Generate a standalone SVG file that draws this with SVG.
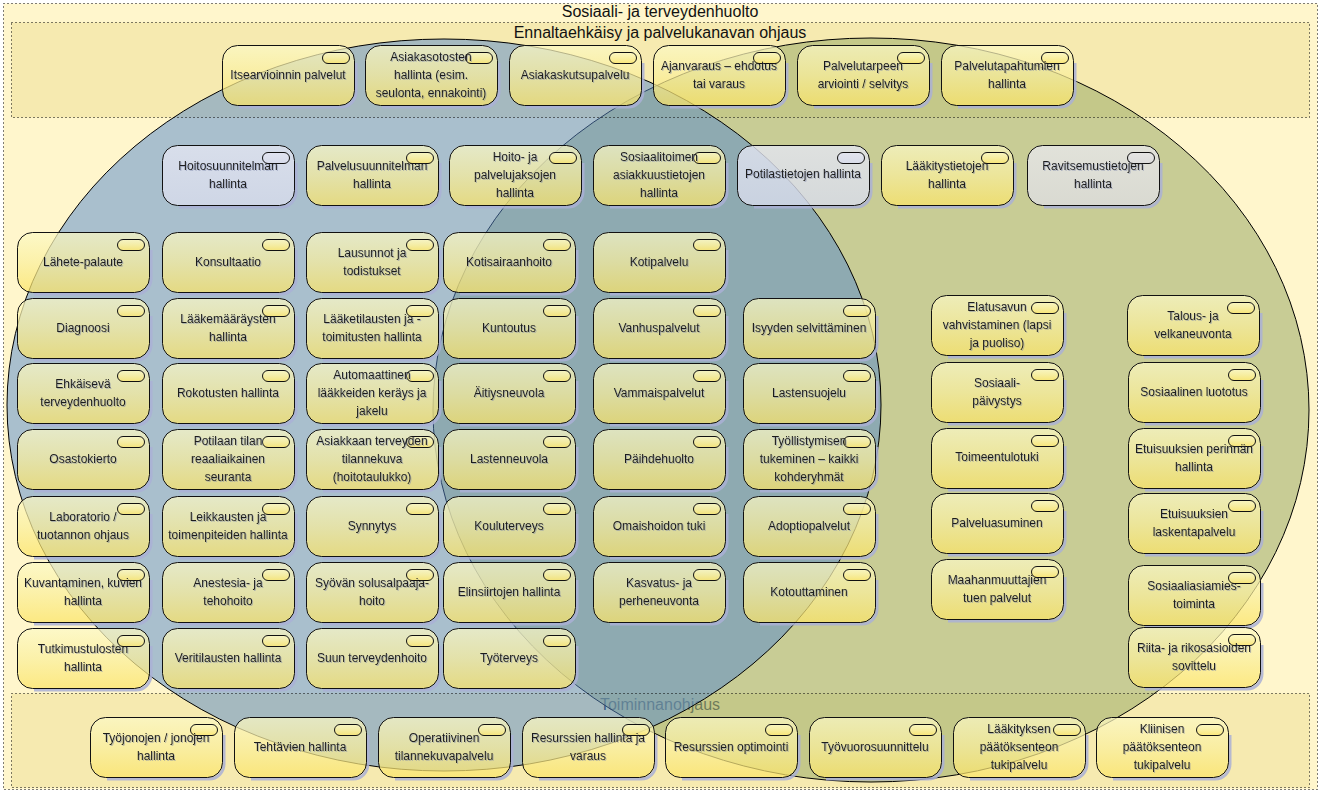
<svg xmlns="http://www.w3.org/2000/svg" width="1322" height="794" viewBox="0 0 1322 794">
<style>
.h{font-family:"Liberation Sans",Arial,sans-serif;font-size:16px;fill:#111;text-anchor:middle}
.t{font-family:"Liberation Sans",Arial,sans-serif;font-size:12px;fill:#1c1c1c;text-anchor:middle;filter:url(#ts)}
.dot{fill:none;stroke:#000;stroke-width:1;stroke-dasharray:1 3}
.sh{fill:none;stroke:#aab0d6;stroke-width:3;stroke-opacity:.85}
.bf{fill:url(#gy);fill-opacity:.72;stroke:#111;stroke-width:1}
.bfl{fill:url(#gl);fill-opacity:.8;stroke:#111;stroke-width:1}
.bfg{fill:url(#gg);fill-opacity:.85;stroke:#111;stroke-width:1}
</style>
<defs>
<linearGradient id="gy" x1="0" y1="0" x2="0" y2="1">
<stop offset="0" stop-color="#fcf9c6"/>
<stop offset="0.5" stop-color="#faef9c"/>
<stop offset="1" stop-color="#fbe466"/>
</linearGradient>
<linearGradient id="gl" x1="0" y1="0" x2="0" y2="1">
<stop offset="0" stop-color="#e4e6f2"/>
<stop offset="1" stop-color="#d8dcec"/>
</linearGradient>
<linearGradient id="gg" x1="0" y1="0" x2="0" y2="1">
<stop offset="0" stop-color="#e6e6e6"/>
<stop offset="1" stop-color="#dcdcdc"/>
</linearGradient>
<filter id="ts" x="-10%" y="-30%" width="120%" height="170%">
<feDropShadow dx="1" dy="1" stdDeviation="0.5" flood-color="#7a84a8" flood-opacity="0.5"/>
</filter>
<g id="bx">
<path class="sh" d="M134,18 L134,47 A15,15 0 0 1 119,62 L17,62"/>
<rect class="bf" x="0.5" y="0.5" width="132" height="60" rx="15"/>
<rect class="bf" x="100.5" y="7.5" width="27" height="11" rx="5.5"/>
</g>
<g id="bxl">
<path class="sh" d="M134,18 L134,47 A15,15 0 0 1 119,62 L17,62"/>
<rect class="bfl" x="0.5" y="0.5" width="132" height="60" rx="15"/>
<rect class="bfl" x="100.5" y="7.5" width="27" height="11" rx="5.5"/>
</g>
<g id="bxg">
<path class="sh" d="M134,18 L134,47 A15,15 0 0 1 119,62 L17,62"/>
<rect class="bfg" x="0.5" y="0.5" width="132" height="60" rx="15"/>
<rect class="bfg" x="100.5" y="7.5" width="27" height="11" rx="5.5"/>
</g>
</defs>

<rect x="0" y="0" width="1322" height="794" fill="#ffffff"/>
<g id="frame-sote">
<rect x="3.5" y="3.5" width="1314" height="786" fill="#fff6cc"/>
<text class="h" x="660" y="17">Sosiaali- ja terveydenhuolto</text>
</g>
<g id="group-ennalta">
<rect x="11.5" y="22.5" width="1298" height="95" fill="#f6eab0"/>
<text class="h" x="660" y="38">Ennaltaehkäisy ja palvelukanavan ohjaus</text>
</g>
<g id="group-toiminnanohjaus">
<rect x="11.5" y="693.5" width="1298" height="94" fill="#f6eab0"/>
<text class="h" x="660" y="710" style="fill:#1a2a3a">Toiminnanohjaus</text>
</g>

<g id="ellipse-sosiaali">
<ellipse cx="871" cy="410" rx="438" ry="372" fill="#a3b06f" fill-opacity="0.6" stroke="#000" stroke-width="1"/>
</g>
<g id="ellipse-terveys">
<ellipse cx="444" cy="405" rx="437" ry="366" fill="#5388ce" fill-opacity="0.5" stroke="#000" stroke-width="1"/>
</g>

<g id="borders">
<rect class="dot" x="3.5" y="3.5" width="1314" height="786"/>
<rect class="dot" x="11.5" y="22.5" width="1298" height="95"/>
<rect class="dot" x="11.5" y="693.5" width="1298" height="94"/>
</g>

<g id="n-itsearviointi" transform="translate(222,45)"><use href="#bx"/><text class="t" x="66" y="34">Itsearvioinnin palvelut</text></g>
<g id="n-asiakasotokset" transform="translate(365,45)"><use href="#bx"/><text class="t" x="66" y="16">Asiakasotosten<tspan x="66" dy="18">hallinta (esim.</tspan><tspan x="66" dy="18">seulonta, ennakointi)</tspan></text></g>
<g id="n-asiakaskutsu" transform="translate(509,45)"><use href="#bx"/><text class="t" x="66" y="34">Asiakaskutsupalvelu</text></g>
<g id="n-ajanvaraus" transform="translate(653,45)"><use href="#bx"/><text class="t" x="66" y="25">Ajanvaraus – ehdotus<tspan x="66" dy="18">tai varaus</tspan></text></g>
<g id="n-palvelutarve" transform="translate(797,45)"><use href="#bx"/><text class="t" x="66" y="25">Palvelutarpeen<tspan x="66" dy="18">arviointi / selvitys</tspan></text></g>
<g id="n-palvelutapahtumat" transform="translate(941,45)"><use href="#bx"/><text class="t" x="66" y="25">Palvelutapahtumien<tspan x="66" dy="18">hallinta</tspan></text></g>

<g id="n-hoitosuunnitelma" transform="translate(162,145)"><use href="#bxl"/><text class="t" x="66" y="25">Hoitosuunnitelman<tspan x="66" dy="18">hallinta</tspan></text></g>
<g id="n-palvelusuunnitelma" transform="translate(306,145)"><use href="#bx"/><text class="t" x="66" y="25">Palvelusuunnitelman<tspan x="66" dy="18">hallinta</tspan></text></g>
<g id="n-hoitojaksot" transform="translate(449,145)"><use href="#bx"/><text class="t" x="66" y="16">Hoito- ja<tspan x="66" dy="18">palvelujaksojen</tspan><tspan x="66" dy="18">hallinta</tspan></text></g>
<g id="n-sosiaalitoimen" transform="translate(593,145)"><use href="#bx"/><text class="t" x="66" y="16">Sosiaalitoimen<tspan x="66" dy="18">asiakkuustietojen</tspan><tspan x="66" dy="18">hallinta</tspan></text></g>
<g id="n-potilastiedot" transform="translate(737,145)"><use href="#bxl"/><text class="t" x="66" y="33">Potilastietojen hallinta</text></g>
<g id="n-laakitystiedot" transform="translate(881,145)"><use href="#bx"/><text class="t" x="66" y="25">Lääkitystietojen<tspan x="66" dy="18">hallinta</tspan></text></g>
<g id="n-ravitsemustiedot" transform="translate(1027,145)"><use href="#bxg"/><text class="t" x="66" y="25">Ravitsemustietojen<tspan x="66" dy="18">hallinta</tspan></text></g>

<g id="n-lahete" transform="translate(17,232)"><use href="#bx"/><text class="t" x="66" y="34">Lähete-palaute</text></g>
<g id="n-konsultaatio" transform="translate(162,232)"><use href="#bx"/><text class="t" x="66" y="34">Konsultaatio</text></g>
<g id="n-lausunnot" transform="translate(306,232)"><use href="#bx"/><text class="t" x="66" y="25">Lausunnot ja<tspan x="66" dy="18">todistukset</tspan></text></g>
<g id="n-kotisairaanhoito" transform="translate(443,232)"><use href="#bx"/><text class="t" x="66" y="34">Kotisairaanhoito</text></g>
<g id="n-kotipalvelu" transform="translate(593,232)"><use href="#bx"/><text class="t" x="66" y="34">Kotipalvelu</text></g>

<g id="n-diagnoosi" transform="translate(17,298)"><use href="#bx"/><text class="t" x="66" y="34">Diagnoosi</text></g>
<g id="n-laakemaaraykset" transform="translate(162,298)"><use href="#bx"/><text class="t" x="66" y="25">Lääkemääräysten<tspan x="66" dy="18">hallinta</tspan></text></g>
<g id="n-laaketilaukset" transform="translate(306,298)"><use href="#bx"/><text class="t" x="66" y="25">Lääketilausten ja -<tspan x="66" dy="18">toimitusten hallinta</tspan></text></g>
<g id="n-kuntoutus" transform="translate(443,298)"><use href="#bx"/><text class="t" x="66" y="34">Kuntoutus</text></g>
<g id="n-vanhuspalvelut" transform="translate(593,298)"><use href="#bx"/><text class="t" x="66" y="34">Vanhuspalvelut</text></g>
<g id="n-isyys" transform="translate(743,298)"><use href="#bx"/><text class="t" x="66" y="34">Isyyden selvittäminen</text></g>
<g id="n-elatusapu" transform="translate(931,295)"><use href="#bx"/><text class="t" x="66" y="16">Elatusavun<tspan x="66" dy="18">vahvistaminen (lapsi</tspan><tspan x="66" dy="18">ja puoliso)</tspan></text></g>
<g id="n-talous" transform="translate(1127,295)"><use href="#bx"/><text class="t" x="66" y="25">Talous- ja<tspan x="66" dy="18">velkaneuvonta</tspan></text></g>

<g id="n-ehkaiseva" transform="translate(17,363)"><use href="#bx"/><text class="t" x="66" y="25">Ehkäisevä<tspan x="66" dy="18">terveydenhuolto</tspan></text></g>
<g id="n-rokotukset" transform="translate(162,363)"><use href="#bx"/><text class="t" x="66" y="34">Rokotusten hallinta</text></g>
<g id="n-automaattinen" transform="translate(306,363)"><use href="#bx"/><text class="t" x="66" y="16">Automaattinen<tspan x="66" dy="18">lääkkeiden keräys ja</tspan><tspan x="66" dy="18">jakelu</tspan></text></g>
<g id="n-aitiysneuvola" transform="translate(443,363)"><use href="#bx"/><text class="t" x="66" y="34">Äitiysneuvola</text></g>
<g id="n-vammaispalvelut" transform="translate(593,363)"><use href="#bx"/><text class="t" x="66" y="34">Vammaispalvelut</text></g>
<g id="n-lastensuojelu" transform="translate(743,363)"><use href="#bx"/><text class="t" x="66" y="34">Lastensuojelu</text></g>
<g id="n-sosiaalipaivystys" transform="translate(931,362)"><use href="#bx"/><text class="t" x="66" y="25">Sosiaali-<tspan x="66" dy="18">päivystys</tspan></text></g>
<g id="n-luototus" transform="translate(1128,362)"><use href="#bx"/><text class="t" x="66" y="34">Sosiaalinen luototus</text></g>

<g id="n-osastokierto" transform="translate(17,429)"><use href="#bx"/><text class="t" x="66" y="34">Osastokierto</text></g>
<g id="n-potilaantila" transform="translate(162,429)"><use href="#bx"/><text class="t" x="66" y="16">Potilaan tilan<tspan x="66" dy="18">reaaliaikainen</tspan><tspan x="66" dy="18">seuranta</tspan></text></g>
<g id="n-tilannekuva" transform="translate(306,429)"><use href="#bx"/><text class="t" x="66" y="16">Asiakkaan terveyden<tspan x="66" dy="18">tilannekuva</tspan><tspan x="66" dy="18">(hoitotaulukko)</tspan></text></g>
<g id="n-lastenneuvola" transform="translate(443,429)"><use href="#bx"/><text class="t" x="66" y="34">Lastenneuvola</text></g>
<g id="n-paihdehuolto" transform="translate(593,429)"><use href="#bx"/><text class="t" x="66" y="34">Päihdehuolto</text></g>
<g id="n-tyollistyminen" transform="translate(743,429)"><use href="#bx"/><text class="t" x="66" y="16">Työllistymisen<tspan x="66" dy="18">tukeminen – kaikki</tspan><tspan x="66" dy="18">kohderyhmät</tspan></text></g>
<g id="n-toimeentulotuki" transform="translate(931,428)"><use href="#bx"/><text class="t" x="66" y="33">Toimeentulotuki</text></g>
<g id="n-perinta" transform="translate(1128,428)"><use href="#bx"/><text class="t" x="66" y="25">Etuisuuksien perinnän<tspan x="66" dy="18">hallinta</tspan></text></g>

<g id="n-laboratorio" transform="translate(17,496)"><use href="#bx"/><text class="t" x="66" y="25">Laboratorio /<tspan x="66" dy="18">tuotannon ohjaus</tspan></text></g>
<g id="n-leikkaukset" transform="translate(162,496)"><use href="#bx"/><text class="t" x="66" y="25">Leikkausten ja<tspan x="66" dy="18">toimenpiteiden hallinta</tspan></text></g>
<g id="n-synnytys" transform="translate(306,496)"><use href="#bx"/><text class="t" x="66" y="34">Synnytys</text></g>
<g id="n-kouluterveys" transform="translate(443,496)"><use href="#bx"/><text class="t" x="66" y="34">Kouluterveys</text></g>
<g id="n-omaishoito" transform="translate(593,496)"><use href="#bx"/><text class="t" x="66" y="34">Omaishoidon tuki</text></g>
<g id="n-adoptio" transform="translate(743,496)"><use href="#bx"/><text class="t" x="66" y="34">Adoptiopalvelut</text></g>
<g id="n-palveluasuminen" transform="translate(931,493)"><use href="#bx"/><text class="t" x="66" y="34">Palveluasuminen</text></g>
<g id="n-laskenta" transform="translate(1128,493)"><use href="#bx"/><text class="t" x="66" y="25">Etuisuuksien<tspan x="66" dy="18">laskentapalvelu</tspan></text></g>

<g id="n-kuvantaminen" transform="translate(17,562)"><use href="#bx"/><text class="t" x="66" y="25">Kuvantaminen, kuvien<tspan x="66" dy="18">hallinta</tspan></text></g>
<g id="n-anestesia" transform="translate(162,562)"><use href="#bx"/><text class="t" x="66" y="25">Anestesia- ja<tspan x="66" dy="18">tehohoito</tspan></text></g>
<g id="n-solusalpaaja" transform="translate(306,562)"><use href="#bx"/><text class="t" x="66" y="25">Syövän solusalpaaja-<tspan x="66" dy="18">hoito</tspan></text></g>
<g id="n-elinsiirrot" transform="translate(443,562)"><use href="#bx"/><text class="t" x="66" y="34">Elinsiirtojen hallinta</text></g>
<g id="n-kasvatus" transform="translate(593,562)"><use href="#bx"/><text class="t" x="66" y="25">Kasvatus- ja<tspan x="66" dy="18">perheneuvonta</tspan></text></g>
<g id="n-kotouttaminen" transform="translate(743,562)"><use href="#bx"/><text class="t" x="66" y="34">Kotouttaminen</text></g>
<g id="n-maahanmuuttajat" transform="translate(931,559)"><use href="#bx"/><text class="t" x="66" y="25">Maahanmuuttajien<tspan x="66" dy="18">tuen palvelut</tspan></text></g>
<g id="n-sosiaaliasiamies" transform="translate(1128,565)"><use href="#bx"/><text class="t" x="66" y="25">Sosiaaliasiamies-<tspan x="66" dy="18">toiminta</tspan></text></g>

<g id="n-tutkimustulokset" transform="translate(17,628)"><use href="#bx"/><text class="t" x="66" y="25">Tutkimustulosten<tspan x="66" dy="18">hallinta</tspan></text></g>
<g id="n-veritilaukset" transform="translate(162,628)"><use href="#bx"/><text class="t" x="66" y="34">Veritilausten hallinta</text></g>
<g id="n-suunterveys" transform="translate(306,628)"><use href="#bx"/><text class="t" x="66" y="34">Suun terveydenhoito</text></g>
<g id="n-tyoterveys" transform="translate(443,628)"><use href="#bx"/><text class="t" x="66" y="34">Työterveys</text></g>
<g id="n-sovittelu" transform="translate(1128,627)"><use href="#bx"/><text class="t" x="66" y="25">Riita- ja rikosasioiden<tspan x="66" dy="18">sovittelu</tspan></text></g>

<g id="n-tyojonot" transform="translate(90,717)"><use href="#bx"/><text class="t" x="66" y="25">Työjonojen / jonojen<tspan x="66" dy="18">hallinta</tspan></text></g>
<g id="n-tehtavat" transform="translate(234,717)"><use href="#bx"/><text class="t" x="66" y="34">Tehtävien hallinta</text></g>
<g id="n-operatiivinen" transform="translate(378,717)"><use href="#bx"/><text class="t" x="66" y="25">Operatiivinen<tspan x="66" dy="18">tilannekuvapalvelu</tspan></text></g>
<g id="n-resurssit" transform="translate(522,717)"><use href="#bx"/><text class="t" x="66" y="25">Resurssien hallinta ja<tspan x="66" dy="18">varaus</tspan></text></g>
<g id="n-optimointi" transform="translate(665,717)"><use href="#bx"/><text class="t" x="66" y="34">Resurssien optimointi</text></g>
<g id="n-tyovuorot" transform="translate(809,717)"><use href="#bx"/><text class="t" x="66" y="34">Työvuorosuunnittelu</text></g>
<g id="n-laakityspaatos" transform="translate(953,717)"><use href="#bx"/><text class="t" x="66" y="16">Lääkityksen<tspan x="66" dy="18">päätöksenteon</tspan><tspan x="66" dy="18">tukipalvelu</tspan></text></g>
<g id="n-kliininen" transform="translate(1096,717)"><use href="#bx"/><text class="t" x="66" y="16">Kliinisen<tspan x="66" dy="18">päätöksenteon</tspan><tspan x="66" dy="18">tukipalvelu</tspan></text></g>
</svg>
